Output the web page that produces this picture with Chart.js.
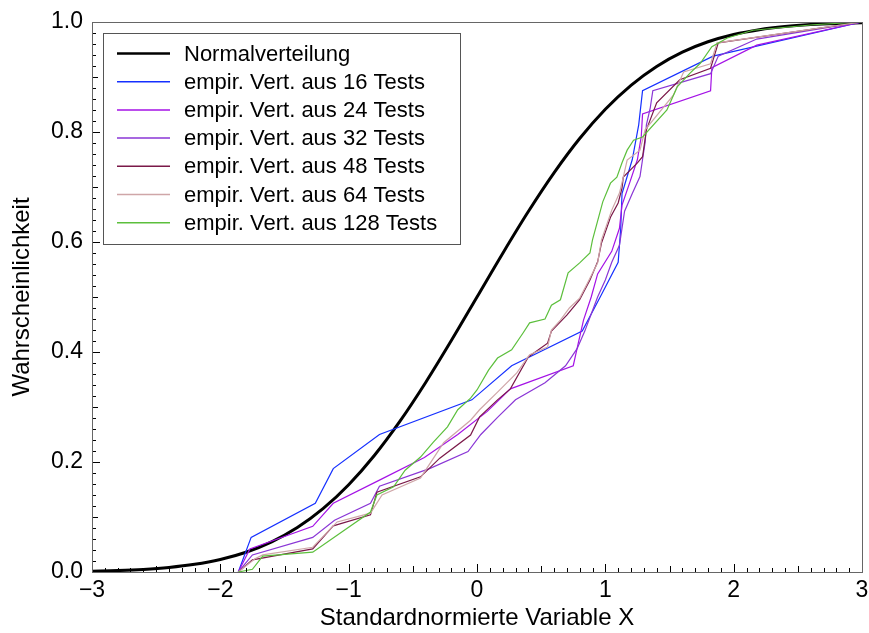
<!DOCTYPE html>
<html lang="de">
<head>
<meta charset="utf-8">
<title>Empirische Verteilungen vs. Normalverteilung</title>
<script src="https://cdn.jsdelivr.net/npm/chart.js@4/dist/chart.umd.min.js"></script>
<style>
  html, body { margin: 0; padding: 0; background: #fff; }
  #wrap { width: 869px; height: 633px; }
</style>
</head>
<body>
<div id="wrap"><canvas id="cdf-chart" width="869" height="633"></canvas></div>
<script>
// Verteilungsfunktion der Standardnormalverteilung (Tabellenwerte)
const normalX = [-3.0, -2.8, -2.6, -2.4, -2.2, -2.0, -1.8, -1.6, -1.4, -1.2, -1.0, -0.8, -0.6, -0.4, -0.2, 0.0,
                 0.2, 0.4, 0.6, 0.8, 1.0, 1.2, 1.4, 1.6, 1.8, 2.0, 2.2, 2.4, 2.6, 2.8, 3.0];
const normalY = [0.00135, 0.00256, 0.00466, 0.00820, 0.01390, 0.02275, 0.03593, 0.05480, 0.08076, 0.11507,
                 0.15866, 0.21186, 0.27425, 0.34458, 0.42074, 0.5, 0.57926, 0.65542, 0.72575, 0.78814,
                 0.84134, 0.88493, 0.91924, 0.94520, 0.96407, 0.97725, 0.98610, 0.99180, 0.99534, 0.99744, 0.99865];

// empirische Verteilungen
const x16 = [-1.86, -1.76, -1.26, -1.12, -0.76, -0.04, 0.27, 0.82, 0.96, 1.10, 1.12, 1.13, 1.21, 1.26, 1.29, 1.84, 3.0];
const y16 = [0, 0.063, 0.125, 0.188, 0.25, 0.313, 0.375, 0.438, 0.5, 0.563, 0.625, 0.688, 0.75, 0.813, 0.875, 0.938, 1];

const x24 = [-1.86, -1.77, -1.28, -1.12, -0.76, -0.41, -0.15, 0.08, 0.26, 0.75, 0.79, 0.83, 0.89, 0.94, 1.05, 1.11,
             1.13, 1.19, 1.25, 1.28, 1.29, 1.82, 1.83, 2.18, 3.0];
const y24 = [0, 0.042, 0.083, 0.125, 0.167, 0.208, 0.25, 0.292, 0.333, 0.375, 0.417, 0.458, 0.5, 0.542, 0.583,
             0.625, 0.667, 0.708, 0.75, 0.792, 0.833, 0.875, 0.917, 0.958, 1];

const x32 = [-1.86, -1.75, -1.28, -1.11, -0.83, -0.76, -0.37, -0.07, 0.03, 0.16, 0.30, 0.53, 0.69, 0.78, 0.84, 0.89,
             0.94, 1.00, 1.05, 1.11, 1.13, 1.15, 1.21, 1.27, 1.29, 1.31, 1.32, 1.35, 1.37, 1.82, 1.88, 2.18, 3.0];
const y32 = [0, 0.031, 0.063, 0.094, 0.125, 0.156, 0.188, 0.219, 0.25, 0.281, 0.313, 0.344, 0.375, 0.406, 0.438,
             0.469, 0.5, 0.531, 0.563, 0.594, 0.625, 0.656, 0.688, 0.719, 0.75, 0.781, 0.813, 0.844, 0.875, 0.906,
             0.938, 0.969, 1];

const x48 = [-1.86, -1.75, -1.28, -1.12, -0.83, -0.78, -0.44, -0.29, -0.05, 0.02, 0.16, 0.26, 0.40, 0.55, 0.58, 0.70,
             0.80, 0.88, 0.94, 0.97, 1.04, 1.10, 1.13, 1.14, 1.25, 1.29, 1.32, 1.40, 1.58, 1.82, 1.88, 3.0];
const y48 = [0, 0.022, 0.042, 0.084, 0.104, 0.145, 0.173, 0.207, 0.249, 0.282, 0.313, 0.333, 0.391, 0.416, 0.438,
             0.467, 0.495, 0.531, 0.564, 0.598, 0.645, 0.671, 0.698, 0.718, 0.744, 0.755, 0.804, 0.853, 0.895,
             0.916, 0.962, 1];

const x64 = [-1.86, -1.73, -1.67, -1.28, -1.09, -0.83, -0.74, -0.44, -0.26, -0.05, 0.02, 0.16, 0.31, 0.41, 0.55, 0.58,
             0.65, 0.72, 0.80, 0.86, 0.94, 0.97, 1.05, 1.11, 1.14, 1.17, 1.27, 1.31, 1.53, 1.61, 1.82, 1.87, 3.0];
const y64 = [0, 0.024, 0.031, 0.045, 0.091, 0.107, 0.140, 0.171, 0.235, 0.276, 0.295, 0.327, 0.362, 0.395, 0.409,
             0.440, 0.458, 0.480, 0.498, 0.525, 0.562, 0.604, 0.658, 0.689, 0.718, 0.749, 0.767, 0.804, 0.867,
             0.909, 0.924, 0.962, 1];

const x128 = [-1.86, -1.75, -1.67, -1.28, -1.09, -0.83, -0.78, -0.65, -0.56, -0.44, -0.34, -0.23, -0.15, -0.05, 0.0,
              0.09, 0.16, 0.27, 0.36, 0.41, 0.53, 0.58, 0.65, 0.71, 0.80, 0.88, 0.90, 0.98, 1.04, 1.09, 1.13, 1.17,
              1.22, 1.29, 1.48, 1.56, 1.66, 1.74, 1.83, 1.95, 2.15, 2.62, 3.0];
const y128 = [0, 0.005, 0.029, 0.036, 0.067, 0.109, 0.140, 0.155, 0.185, 0.209, 0.236, 0.264, 0.295, 0.316, 0.331,
              0.367, 0.389, 0.404, 0.435, 0.453, 0.460, 0.485, 0.495, 0.544, 0.562, 0.580, 0.604, 0.673, 0.707,
              0.718, 0.744, 0.767, 0.785, 0.791, 0.840, 0.882, 0.907, 0.925, 0.955, 0.971, 0.985, 0.995, 1];

const seriesLabels = ['Normalverteilung', 'empir. Vert. aus 16 Tests', 'empir. Vert. aus 24 Tests',
                      'empir. Vert. aus 32 Tests', 'empir. Vert. aus 48 Tests', 'empir. Vert. aus 64 Tests',
                      'empir. Vert. aus 128 Tests'];

const FONT = '"Liberation Sans", Arial, Helvetica, sans-serif';

function toPoints(xs, ys) {
    return xs.map((x, i) => ({ x, y: ys[i] }));
}

function isWhole(v, step) {
    return Math.abs(v / step - Math.round(v / step)) < 1e-6;
}

// Rahmen, nach innen zeigende Ticks und Legende mit Kasten
const decorPlugin = {
    id: 'decor',
    afterDraw(chart) {
        const { ctx, chartArea: a, scales } = chart;
        ctx.save();

        ctx.strokeStyle = '#000';
        ctx.lineWidth = 1;
        ctx.beginPath();
        scales.x.ticks.forEach((t) => {
            const px = Math.round(scales.x.getPixelForValue(t.value)) + 0.5;
            const len = isWhole(t.value, 1) ? 8 : (isWhole(t.value, 0.5) ? 6 : 4);
            ctx.moveTo(px, a.bottom);
            ctx.lineTo(px, a.bottom - len);
        });
        scales.y.ticks.forEach((t) => {
            const py = Math.round(scales.y.getPixelForValue(t.value)) + 0.5;
            const len = isWhole(t.value, 0.2) ? 8 : (isWhole(t.value, 0.1) ? 6 : 4);
            ctx.moveTo(a.left, py);
            ctx.lineTo(a.left + len, py);
        });
        ctx.stroke();

        ctx.strokeStyle = '#666';
        ctx.strokeRect(Math.round(a.left) + 0.5, Math.round(a.top) + 0.5,
                       Math.round(a.right - a.left), Math.round(a.bottom - a.top));

        // Legende
        const bx = a.left + 11, by = a.top + 11;
        ctx.fillStyle = '#fff';
        ctx.fillRect(bx, by, 357, 211);
        ctx.strokeStyle = '#555';
        ctx.strokeRect(bx + 0.5, by + 0.5, 357, 211);
        ctx.font = `22px ${FONT}`;
        ctx.textBaseline = 'middle';
        chart.data.datasets.forEach((ds, i) => {
            const y = by + 20.5 + i * 28.2;
            ctx.strokeStyle = ds.borderColor;
            ctx.lineWidth = i === 0 ? 2.5 : 1.5;
            ctx.beginPath();
            ctx.moveTo(bx + 14, y);
            ctx.lineTo(bx + 67, y);
            ctx.stroke();
            ctx.fillStyle = '#000';
            ctx.fillText(ds.label, bx + 81, y + 1);
        });
        ctx.restore();
    },
};

function buildChart() {
    const ctx = document.getElementById('cdf-chart');
    const empirical = [
        { xs: x16, ys: y16, color: '#1530ff' },
        { xs: x24, ys: y24, color: '#a412e6' },
        { xs: x32, ys: y32, color: '#8a36d6' },
        { xs: x48, ys: y48, color: '#7a1848' },
        { xs: x64, ys: y64, color: '#cfa6a8' },
        { xs: x128, ys: y128, color: '#5cbf3c' },
    ];

    const datasets = [{
        label: seriesLabels[0],
        data: toPoints(normalX, normalY),
        borderColor: '#000',
        borderWidth: 3,
        cubicInterpolationMode: 'monotone',
        order: 7,
    }].concat(empirical.map((s, i) => ({
        label: seriesLabels[i + 1],
        data: toPoints(s.xs, s.ys),
        borderColor: s.color,
        borderWidth: 1.2,
        order: 6 - i,
    })));

    new Chart(ctx, {
        type: 'scatter',
        data: { datasets },
        options: {
            responsive: false,
            animation: false,
            showLine: true,
            elements: { point: { radius: 0, hoverRadius: 0 }, line: { fill: false } },
            layout: { padding: { top: 22, right: 7, left: 0, bottom: 0 } },
            plugins: { legend: { display: false }, tooltip: { enabled: false } },
            scales: {
                x: {
                    type: 'linear', min: -3, max: 3,
                    afterFit: (scale) => {
                        scale.height = 61;
                        scale.paddingLeft = 0;
                        scale.paddingRight = 0;
                    },
                    border: { color: '#000', width: 1 },
                    grid: { display: false, drawTicks: false },
                    ticks: {
                        stepSize: 0.1, autoSkip: false, maxRotation: 0, minRotation: 0, padding: 5,
                        color: '#000', font: { family: FONT, size: 23 },
                        callback: (v) => (isWhole(v, 1) ? String(Math.round(v)).replace('-', '\u2212') : ''),
                    },
                    title: {
                        display: true, text: 'Standardnormierte Variable X', color: '#000',
                        font: { family: FONT, size: 24 }, padding: { top: 0, bottom: 0 },
                    },
                },
                y: {
                    type: 'linear', min: 0, max: 1,
                    afterFit: (scale) => {
                        scale.width = 92;
                        scale.paddingTop = 0;
                        scale.paddingBottom = 0;
                    },
                    border: { color: '#000', width: 1 },
                    grid: { display: false, drawTicks: false },
                    ticks: {
                        stepSize: 0.02, autoSkip: false, padding: 9,
                        color: '#000', font: { family: FONT, size: 23 },
                        callback: (v) => (isWhole(v, 0.2) ? v.toFixed(1) : ''),
                    },
                    title: {
                        display: true, text: 'Wahrscheinlichkeit', color: '#000',
                        font: { family: FONT, size: 24 }, padding: { top: 8, bottom: 0 },
                    },
                },
            },
        },
        plugins: [decorPlugin],
    });
}

document.addEventListener('DOMContentLoaded', buildChart);
</script>
</body>
</html>
